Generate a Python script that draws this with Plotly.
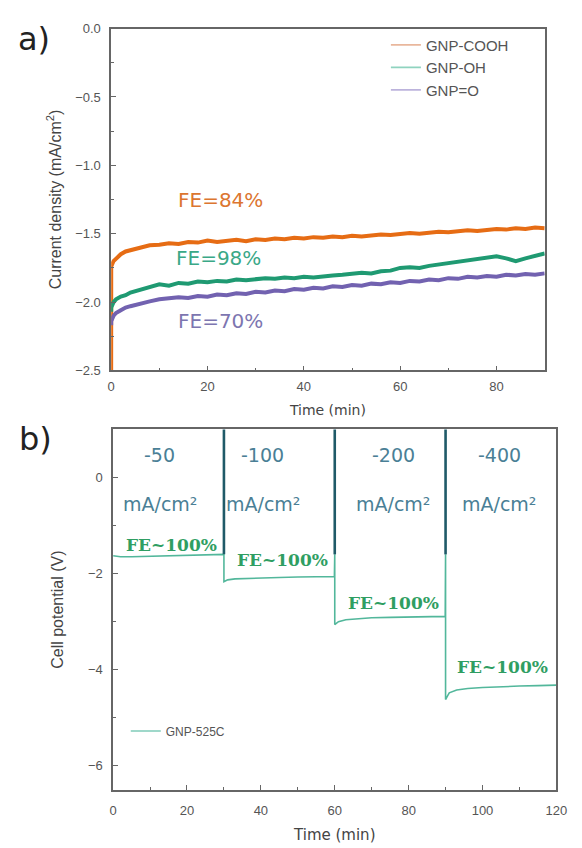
import plotly.graph_objects as go

# ---------------- data: panel a ----------------
time_a = [0, 0.01, 0.5, 1, 2, 3, 4, 5, 6,
          8, 10, 12, 14, 16, 18, 20, 22, 24, 26, 28, 30, 32, 34, 36, 38, 40,
          42, 44, 46, 48, 50, 52, 54, 56, 58, 60, 62, 64, 66, 68, 70,
          72, 74, 76, 78, 80, 82, 84, 86, 88, 90]
j_cooh = [-2.50, -1.74, -1.70, -1.68, -1.65, -1.63, -1.62, -1.61, -1.60,
          -1.585, -1.58, -1.57, -1.575, -1.56, -1.565, -1.55, -1.56, -1.55, -1.545, -1.555, -1.54,
          -1.545, -1.535, -1.54, -1.53, -1.535, -1.525, -1.53, -1.52, -1.525, -1.515,
          -1.52, -1.51, -1.505, -1.51, -1.50, -1.495, -1.50, -1.49, -1.485, -1.49,
          -1.48, -1.475, -1.48, -1.47, -1.465, -1.47, -1.46, -1.465, -1.455, -1.46]
j_oh = [-2.07, -2.04, -2.00, -1.98, -1.96, -1.95, -1.93, -1.92, -1.91,
        -1.89, -1.87, -1.88, -1.86, -1.865, -1.85, -1.855, -1.845, -1.85, -1.835, -1.84, -1.83,
        -1.825, -1.83, -1.82, -1.825, -1.815, -1.82, -1.81, -1.805, -1.80, -1.795,
        -1.785, -1.79, -1.775, -1.77, -1.75, -1.745, -1.75, -1.735, -1.725, -1.72,
        -1.71, -1.70, -1.69, -1.675, -1.665, -1.68, -1.70, -1.68, -1.66, -1.645]
j_o = [-2.17, -2.14, -2.10, -2.08, -2.06, -2.04, -2.03, -2.02, -2.01,
       -1.995, -1.98, -1.975, -1.965, -1.97, -1.955, -1.96, -1.945, -1.95, -1.935, -1.94, -1.925,
       -1.93, -1.915, -1.92, -1.905, -1.91, -1.895, -1.90, -1.885, -1.89, -1.875,
       -1.88, -1.865, -1.87, -1.855, -1.86, -1.845, -1.85, -1.835, -1.84, -1.825,
       -1.83, -1.815, -1.82, -1.81, -1.815, -1.80, -1.805, -1.795, -1.80, -1.79]
series_a_names = ["GNP-COOH", "GNP-OH", "GNP=O"]
fe_a_labels = ["FE=84%", "FE=98%", "FE=70%"]
fe_a_x = [22.7, 22.3, 22.7]
fe_a_y = [-1.25, -1.68, -2.14]

# ---------------- data: panel b ----------------
time_b = [0, 2, 5, 10, 15, 20, 25, 29.9,
          30, 30, 30.5, 31, 33, 36, 40, 45, 50, 55, 59.9,
          60, 60, 60.5, 61, 63, 66, 70, 75, 80, 85, 89.9,
          90, 90, 90.5, 91, 93, 96, 100, 105, 110, 115, 120]
volt_b = [-1.63, -1.65, -1.65, -1.64, -1.63, -1.63, -1.62, -1.61,
          -1.60, -2.17, -2.15, -2.13, -2.11, -2.10, -2.09, -2.08, -2.07, -2.07, -2.06,
          -1.60, -3.06, -3.03, -3.00, -2.96, -2.94, -2.92, -2.91, -2.90, -2.89, -2.89,
          -1.60, -4.62, -4.55, -4.48, -4.42, -4.39, -4.37, -4.35, -4.34, -4.33, -4.32]
switch_times = [30, 60, 90]
spike_top = 1.5
spike_bottom = -1.60
current_labels = ["-50", "-100", "-200", "-400"]
current_x = [12.6, 40.5, 75.8, 104.5]
fe_b_x = [15.8, 45.8, 75.8, 105.5]
fe_b_y = [-1.41, -1.71, -2.61, -3.94]

# ---------------- styles ----------------
SANS = "Liberation Sans, Arial, sans-serif"
WIDE = "DejaVu Sans, Verdana, sans-serif"
line_cols = ["#e66c14", "#1f9a72", "#7262b0"]
legend_cols = ["#e9b79c", "#8fd3bf", "#bcb3dc"]
fe_cols = ["#dc7630", "#3aa887", "#7d76b0"]

fig = go.Figure()

for name, y, c in zip(series_a_names, [j_cooh, j_oh, j_o], line_cols):
    fig.add_trace(go.Scatter(x=time_a, y=y, mode="lines", showlegend=False,
                             line=dict(color=c, width=4), xaxis="x", yaxis="y"))
for name, c in zip(series_a_names, legend_cols):
    fig.add_trace(go.Scatter(x=[None], y=[None], mode="lines", name=name,
                             line=dict(color=c, width=1.6), xaxis="x", yaxis="y",
                             legend="legend"))

fig.add_trace(go.Scatter(x=time_b, y=volt_b, mode="lines", showlegend=False,
                         line=dict(color="#52b79b", width=1.6), xaxis="x2", yaxis="y2"))
sx, sy = [], []
for t in switch_times:
    sx += [t, t, None]
    sy += [spike_top, spike_bottom, None]
fig.add_trace(go.Scatter(x=sx, y=sy, mode="lines", showlegend=False,
                         line=dict(color="#1f5a68", width=2.6), xaxis="x2", yaxis="y2"))
fig.add_trace(go.Scatter(x=[None], y=[None], mode="lines", name="GNP-525C",
                         line=dict(color="#7fcbb8", width=1.6), xaxis="x2", yaxis="y2",
                         legend="legend2"))

ann = []
for lab, x, y, c in zip(fe_a_labels, fe_a_x, fe_a_y, fe_cols):
    ann.append(dict(x=x, y=y, xref="x", yref="y", text=lab, showarrow=False,
                    font=dict(family=WIDE, size=20, color=c)))
for lab, x in zip(current_labels, current_x):
    ann.append(dict(x=x, y=0.47, xref="x2", yref="y2", text=lab, showarrow=False,
                    font=dict(family=WIDE, size=19, color="#4a7f96")))
    ann.append(dict(x=x, y=-0.55, xref="x2", yref="y2", text="mA/cm²", showarrow=False,
                    font=dict(family=WIDE, size=19, color="#4a7f96")))
for x, y in zip(fe_b_x, fe_b_y):
    ann.append(dict(x=x, y=y, xref="x2", yref="y2", text="<b>FE~100%</b>", showarrow=False,
                    font=dict(family="DejaVu Serif, serif", size=17, color="#2f9e62")))
ann.append(dict(x=31 / 582, y=1 - 33 / 848, xref="paper", yref="paper", text="a)",
                xanchor="center", yanchor="middle",
                showarrow=False, font=dict(family=WIDE, size=32, color="#222")))
ann.append(dict(x=32 / 582, y=1 - 440 / 848, xref="paper", yref="paper", text="b)",
                xanchor="center", yanchor="middle",
                showarrow=False, font=dict(family=WIDE, size=32, color="#222")))

axis_common = dict(showline=True, linecolor="#666", linewidth=1.5, mirror=True,
                   ticks="inside", ticklen=5, tickcolor="#666", tickwidth=1,
                   showgrid=False, zeroline=False,
                   tickfont=dict(family=SANS, size=13, color="#555"))

fig.update_layout(
    width=582, height=848, margin=dict(l=0, r=0, t=0, b=0),
    paper_bgcolor="white", plot_bgcolor="white",
    annotations=ann,
    xaxis=dict(domain=[110 / 582, 555 / 582], anchor="y", range=[0, 90],
               tickvals=[0, 20, 40, 60, 80], ticklabelstandoff=3,
               minor=dict(ticks="inside", ticklen=3, tickcolor="#666", dtick=10, tick0=0),
               title=dict(text="Time (min)", font=dict(family=WIDE, size=14, color="#444"),
                          standoff=12),
               **axis_common),
    yaxis=dict(domain=[1 - 370 / 848, 1 - 22 / 848], anchor="x", range=[-2.5, 0.0],
               tickvals=[-2.5, -2.0, -1.5, -1.0, -0.5, 0.0], tickformat=".1f",
               minor=dict(ticks="inside", ticklen=3, tickcolor="#666", dtick=0.25, tick0=0),
               ticklabelstandoff=6,
               title=dict(text="Current density (mA/cm<sup>2</sup>)",
                          font=dict(family=SANS, size=16, color="#444"), standoff=10),
               **axis_common),
    xaxis2=dict(domain=[112 / 582, 567 / 582], anchor="y2", range=[0, 120],
                tickvals=[0, 20, 40, 60, 80, 100, 120], ticklabelstandoff=8,
                minor=dict(ticks="inside", ticklen=3, tickcolor="#666", dtick=10, tick0=0),
                title=dict(text="Time (min)", font=dict(family=WIDE, size=15, color="#444"),
                           standoff=12),
                **axis_common),
    yaxis2=dict(domain=[1 - 797 / 848, 1 - 430 / 848], anchor="x2", range=[-6.5, 1.0],
                tickvals=[-6, -4, -2, 0],
                minor=dict(ticks="inside", ticklen=3, tickcolor="#666", dtick=1, tick0=0),
                ticklabelstandoff=6,
                title=dict(text="Cell potential (V)",
                           font=dict(family=SANS, size=16, color="#444"), standoff=20),
                **axis_common),
    legend=dict(x=392 / 582, y=1 - 22 / 848, xanchor="left", yanchor="top",
                bgcolor="rgba(0,0,0,0)", font=dict(family=SANS, size=15, color="#555"),
                itemwidth=30, tracegroupgap=0),
    legend2=dict(x=125 / 582, y=1 - 737 / 848, xanchor="left", yanchor="middle",
                 bgcolor="rgba(0,0,0,0)", font=dict(family=SANS, size=12, color="#555"),
                 itemwidth=30),
)

fig.write_html("out.html")
